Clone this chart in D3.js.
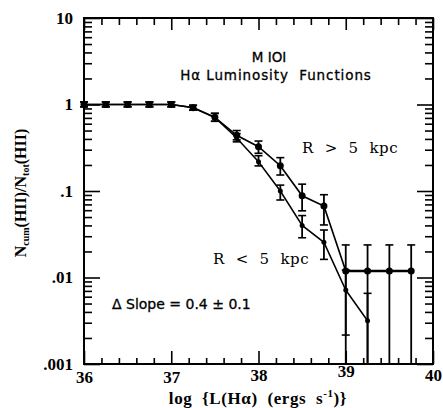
<!DOCTYPE html>
<html><head><meta charset="utf-8">
<script src="https://cdn.jsdelivr.net/npm/d3@7"></script>
<style>body{margin:0;background:#fff}svg{display:block}text{white-space:pre}</style>
</head><body>
<svg id="c" width="443" height="408"></svg>
<script>
// ---- data ----
const logL = [36,36.25,36.5,36.75,37,37.25,37.5,37.75,38,38.25,38.5,38.75,39,39.25,39.5,39.75];
// R > 5 kpc
const outerVal = [1,1,1,1,1,0.92,0.71,0.44,0.325,0.196,0.088,0.067,0.0119,0.0119,0.0119,0.0119];
const outerLo  = [0.94,0.94,0.94,0.94,0.94,0.86,0.64,0.39,0.273,0.153,0.059,0.0405,0.001,0.001,0.001,0.001];
const outerHi  = [1.07,1.07,1.07,1.07,1.07,0.98,0.79,0.5,0.378,0.243,0.12,0.0906,0.0238,0.0238,0.0238,0.0238];
// R < 5 kpc
const innerX   = [36,36.25,36.5,36.75,37,37.25,37.5,37.75,38,38.25,38.5,38.75,39,39.25];
const innerVal = [1,1,1,1,1,0.92,0.71,0.41,0.218,0.1,0.04,0.0255,0.00716,0.00316];
const innerLo  = [0.94,0.94,0.94,0.94,0.94,0.86,0.64,0.37,0.195,0.0787,0.0288,0.0162,0.00216,0.001];
const innerHi  = [1.07,1.07,1.07,1.07,1.07,0.98,0.79,0.46,0.256,0.117,0.052,0.0354,0.0122,0.00656];
const xMajor = [36,37,38,39,40];
const xMinor = [36.2,36.4,36.6,36.8,37.2,37.4,37.6,37.8,38.2,38.4,38.6,38.8,39.2,39.4,39.6,39.8];
const yMajor = [0.001,0.01,0.1,1,10];
const yLabels = [".001",".01",".1","1","10"];

// ---- scales ----
const svg = d3.select("#c");
const L=84,R=433,T=18,B=364;
const x = d3.scaleLinear().domain([36,40]).range([L,R]);
const y = d3.scaleLog().domain([0.001,10]).range([B,T]);
const yMinor = [];
[0.001,0.01,0.1,1].forEach(d=>{for(let k=2;k<=9;k++) yMinor.push(d*k);});

const tickFont = "bold 17px 'Liberation Serif', serif";
const xLift = {38:-2, 39:-6, 40:-2};

function styleAxis(g){ g.select(".domain").remove(); g.selectAll("line").attr("stroke","#000").attr("stroke-width",1.6); }

// bottom
svg.append("g").attr("transform",`translate(0,${B})`)
  .call(d3.axisBottom(x).tickValues(xMajor).tickSize(-13).tickFormat(d3.format("d")))
  .call(styleAxis)
  .call(g=>g.selectAll("text").style("font",tickFont).attr("fill","#000").attr("y",d=>7+(xLift[d]||0)));
svg.append("g").attr("transform",`translate(0,${B})`)
  .call(d3.axisBottom(x).tickValues(xMinor).tickSize(-6).tickFormat(""))
  .call(styleAxis);
// top
svg.append("g").attr("transform",`translate(0,${T})`)
  .call(d3.axisTop(x).tickValues(xMajor).tickSize(-12).tickFormat(""))
  .call(styleAxis);
svg.append("g").attr("transform",`translate(0,${T})`)
  .call(d3.axisTop(x).tickValues(xMinor).tickSize(-7).tickFormat(""))
  .call(styleAxis);
// left
svg.append("g").attr("transform",`translate(${L},0)`)
  .call(d3.axisLeft(y).tickValues(yMajor).tickSize(-16).tickPadding(12).tickFormat((d,i)=>yLabels[i]))
  .call(styleAxis)
  .call(g=>g.selectAll("text").style("font",tickFont).attr("fill","#000").attr("x",-11));
svg.append("g").attr("transform",`translate(${L},0)`)
  .call(d3.axisLeft(y).tickValues(yMinor).tickSize(-8).tickFormat(""))
  .call(styleAxis);
// right
svg.append("g").attr("transform",`translate(${R},0)`)
  .call(d3.axisRight(y).tickValues(yMajor).tickSize(-16).tickFormat(""))
  .call(styleAxis);
svg.append("g").attr("transform",`translate(${R},0)`)
  .call(d3.axisRight(y).tickValues(yMinor).tickSize(-8).tickFormat(""))
  .call(styleAxis);

// frame
svg.append("rect").attr("x",L).attr("y",T).attr("width",R-L).attr("height",B-T)
  .attr("fill","none").attr("stroke","#000").attr("stroke-width",2);

// ---- series ----
const clipY = v => y(Math.max(v,0.001));
function drawSeries(xs, vals, lo, hi, r, lw){
  const g = svg.append("g");
  const pts = xs.map((d,i)=>({x:d,v:vals[i],lo:lo[i],hi:hi[i]}));
  g.append("path").datum(pts)
    .attr("d", d3.line().x(d=>x(d.x)).y(d=>y(d.v)))
    .attr("fill","none").attr("stroke","#000").attr("stroke-width",lw);
  g.selectAll(".eb").data(pts).join("line")
    .attr("x1",d=>x(d.x)).attr("x2",d=>x(d.x))
    .attr("y1",d=>clipY(d.lo)).attr("y2",d=>y(d.hi))
    .attr("stroke","#000").attr("stroke-width",1.8);
  g.selectAll(".ch").data(pts).join("line")
    .attr("x1",d=>x(d.x)-4).attr("x2",d=>x(d.x)+4)
    .attr("y1",d=>y(d.hi)).attr("y2",d=>y(d.hi))
    .attr("stroke","#000").attr("stroke-width",1.6);
  g.selectAll(".cl").data(pts.filter(d=>d.lo>0.001)).join("line")
    .attr("x1",d=>x(d.x)-4).attr("x2",d=>x(d.x)+4)
    .attr("y1",d=>y(d.lo)).attr("y2",d=>y(d.lo))
    .attr("stroke","#000").attr("stroke-width",1.6);
  g.selectAll("circle").data(pts).join("circle")
    .attr("cx",d=>x(d.x)).attr("cy",d=>y(d.v)).attr("r",r).attr("fill","#000");
}
drawSeries(innerX, innerVal, innerLo, innerHi, 2.5, 1.5);
drawSeries(logL, outerVal, outerLo, outerHi, 3.5, 1.7);
// thicker flat tail of R > 5 kpc
svg.append("path").datum(logL.slice(12).map((d,i)=>[d,outerVal[12+i]]))
  .attr("d", d3.line().x(d=>x(d[0])).y(d=>y(d[1])))
  .attr("fill","none").attr("stroke","#000").attr("stroke-width",2.6);

// ---- annotations ----
const sans = "'DejaVu Sans', sans-serif";
const serif = "'DejaVu Serif', serif";
svg.append("text").attr("x",269).attr("y",62).attr("text-anchor","middle")
  .style("font",`13.5px ${sans}`).style("stroke","#000").style("stroke-width","0.3px")
  .text("M IOI");
svg.append("text").attr("x",276).attr("y",80).attr("text-anchor","middle")
  .style("font",`13.5px ${sans}`).style("letter-spacing","0.9px").style("stroke","#000").style("stroke-width","0.3px")
  .text("Hα Luminosity  Functions");
svg.append("text").attr("x",302).attr("y",153)
  .style("font",`15px ${serif}`).style("letter-spacing","0.6px").text("R  >  5  kpc");
svg.append("text").attr("x",213).attr("y",264)
  .style("font",`15px ${serif}`).style("letter-spacing","0.6px").text("R  <  5  kpc");
svg.append("text").attr("x",112).attr("y",309)
  .style("font",`14px ${sans}`).style("stroke","#000").style("stroke-width","0.3px")
  .text("Δ Slope = 0.4 ± 0.1");

// axis titles
const xt = svg.append("text").attr("x",258).attr("y",404).attr("text-anchor","middle")
  .style("font",`bold 17px 'Liberation Serif', serif`).style("letter-spacing","0.6px");
xt.append("tspan").text("log  {L(Hα)  (ergs  s");
xt.append("tspan").attr("dy",-7).style("font-size","11px").text("-1");
xt.append("tspan").attr("dy",7).text(")}");

const yt = svg.append("text").attr("transform","translate(26,193) rotate(-90)").attr("text-anchor","middle")
  .style("font",`bold 16px 'Liberation Serif', serif`);
yt.append("tspan").text("N");
yt.append("tspan").attr("dy",3).style("font-size","10px").text("cum");
yt.append("tspan").attr("dy",-3).text("(HII)/N");
yt.append("tspan").attr("dy",3).style("font-size","10px").text("tot");
yt.append("tspan").attr("dy",-3).text("(HII)");
</script>
</body></html>
